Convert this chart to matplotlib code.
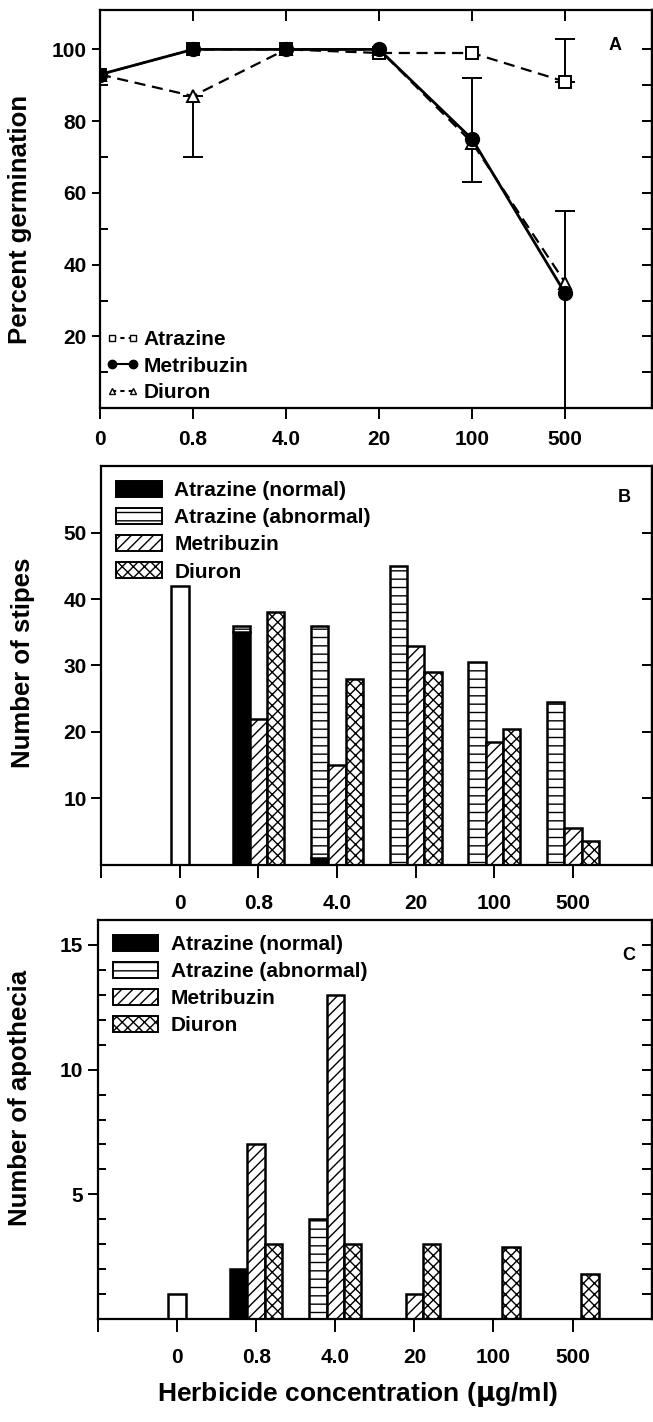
import numpy as np
import matplotlib.pyplot as plt
from matplotlib.lines import Line2D
from matplotlib.patches import Patch

plt.rcParams['font.family'] = ['Liberation Sans', 'DejaVu Sans']
plt.rcParams['font.weight'] = 'bold'
plt.rcParams['hatch.linewidth'] = 1.0
plt.rcParams['axes.linewidth'] = 1.6

# data
conc = ['0', '0.8', '4.0', '20', '100', '500']

# panel A - percent germination
atra_germ = [93, 100, 100, 99, 99, 91]
metr_germ = [93, 100, 100, 100, 75, 32]
diur_germ = [93, 87, 100, 100, 74, 35]
err_idx = [1, 4, 5, 5]
err_mid = [87, 75, 32, 91]
err_lo = [17, 12, 32, 0]
err_hi = [0, 17, 23, 12]

# panel B - number of stipes
ctrl_stipes = 42
atra_norm_stipes = [0, 35, 1, 0, 0, 0]
atra_abn_stipes = [0, 1, 35, 45, 30.5, 24.5]
metr_stipes = [0, 22, 15, 33, 18.5, 5.5]
diur_stipes = [0, 38, 28, 29, 20.5, 3.5]

# panel C - number of apothecia
ctrl_apo = 1
atra_norm_apo = [0, 2, 0, 0, 0, 0]
atra_abn_apo = [0, 0, 4, 0, 0, 0]
metr_apo = [0, 7, 13, 1, 0, 0]
diur_apo = [0, 3, 3, 3, 2.9, 1.8]

fig = plt.figure(figsize=(6.53, 14.22), dpi=100)
FS = 15
LFS = 15
x = np.arange(len(conc))

# ---------- panel A ----------
axA = fig.add_axes([0.153, 0.713, 0.845, 0.280])
axA.plot(x, atra_germ, ls='--', color='k', lw=1.6, marker='s', ms=9,
         mfc='white', mec='k', mew=1.4, dashes=(5, 3), zorder=3)
axA.plot(x, diur_germ, ls='--', color='k', lw=1.6, marker='^', ms=9,
         mfc='white', mec='k', mew=1.4, dashes=(5, 3), zorder=3)
axA.plot(x, metr_germ, ls='-', color='k', lw=2.0, marker='o', ms=10,
         mfc='k', mec='k', zorder=4)
for i, m, lo, hi in zip(err_idx, err_mid, err_lo, err_hi):
    axA.errorbar(x[i], m, yerr=[[lo], [hi]], fmt='none', ecolor='k',
                 elinewidth=1.4, capsize=7, capthick=1.4, zorder=2)
axA.set_xlim(0, 5.93)
axA.set_ylim(0, 111)
axA.set_xticks(x, conc, fontsize=FS)
axA.set_yticks([20, 40, 60, 80, 100])
axA.set_yticks([10, 30, 50, 70, 90], minor=True)
axA.tick_params(axis='y', labelsize=FS, direction='out', length=6, width=1.4)
axA.tick_params(axis='y', which='minor', direction='in', length=6, width=1.4)
axA.tick_params(axis='x', direction='out', length=8, width=1.4, pad=8,
                top=True)
for t in axA.xaxis.get_major_ticks():
    t.tick2line.set_marker(3)
secA = axA.secondary_yaxis('right')
secA.set_yticks(np.arange(10, 101, 10))
secA.tick_params(direction='in', length=7, width=1.4, labelright=False)
axA.text(0.933, 0.91, 'A', transform=axA.transAxes, fontsize=13,
         ha='center', va='center')
hA = [Line2D([], [], ls='--', color='k', marker='s', ms=5, mfc='white', dashes=(2, 2)),
      Line2D([], [], ls='-', color='k', marker='o', ms=6, mfc='k'),
      Line2D([], [], ls='--', color='k', marker='^', ms=5, mfc='white', dashes=(2, 2))]
axA.legend(hA, ['Atrazine', 'Metribuzin', 'Diuron'], loc='lower left',
           frameon=False, fontsize=LFS, handlelength=1.6, handletextpad=0.2,
           numpoints=2, borderaxespad=0.1, labelspacing=0.35, borderpad=0.2)
fig.text(0.031, 0.846, 'Percent germination', rotation=90, fontsize=18.5,
         ha='center', va='center')


# ---------- bar panels ----------
def bar_panel(ax, ctrl, norm, abn, metr, diur):
    w = 0.22
    ax.bar(0, ctrl, w, color='white', edgecolor='k', lw=1.8)
    for i in range(1, len(conc)):
        if norm[i] > 0:
            ax.bar(i - w, norm[i], w, color='k', edgecolor='k', lw=1.8)
        if abn[i] > 0:
            ax.bar(i - w, abn[i], w, bottom=norm[i], color='white',
                   edgecolor='k', lw=1.8, hatch='--')
        if metr[i] > 0:
            ax.bar(i, metr[i], w, color='white', edgecolor='k', lw=1.8,
                   hatch='///')
        if diur[i] > 0:
            ax.bar(i + w, diur[i], w, color='white', edgecolor='k', lw=1.8,
                   hatch='xxx')
    ax.set_xlim(-1, 6)
    ax.set_xticks([-1] + list(x), [''] + conc, fontsize=FS)
    ax.tick_params(axis='x', direction='out', length=9, width=1.4, pad=12)
    ax.tick_params(axis='y', labelsize=FS, direction='out', length=7,
                   width=1.4)
    h = [Patch(facecolor='k', edgecolor='k', lw=1.4),
         Patch(facecolor='white', edgecolor='k', lw=1.4, hatch='--'),
         Patch(facecolor='white', edgecolor='k', lw=1.4, hatch='///'),
         Patch(facecolor='white', edgecolor='k', lw=1.4, hatch='xxx')]
    ax.legend(h, ['Atrazine (normal)', 'Atrazine (abnormal)', 'Metribuzin',
                  'Diuron'], loc='upper left', frameon=False, fontsize=LFS,
              handlelength=2.2, handleheight=0.8, handletextpad=0.6,
              labelspacing=0.38, borderaxespad=0.3, borderpad=0.4)


axB = fig.add_axes([0.155, 0.392, 0.843, 0.280])
bar_panel(axB, ctrl_stipes, atra_norm_stipes, atra_abn_stipes,
          metr_stipes, diur_stipes)
axB.set_ylim(0, 60)
axB.set_yticks([10, 20, 30, 40, 50])
secB = axB.secondary_yaxis('right')
secB.set_yticks([10, 20, 30, 40, 50])
secB.tick_params(direction='in', length=7, width=1.4, labelright=False)
axB.text(0.951, 0.922, 'B', transform=axB.transAxes, fontsize=13,
         ha='center', va='center')
fig.text(0.035, 0.534, 'Number of stipes', rotation=90, fontsize=18.5,
         ha='center', va='center')

axC = fig.add_axes([0.150, 0.0724, 0.848, 0.2806])
bar_panel(axC, ctrl_apo, atra_norm_apo, atra_abn_apo, metr_apo, diur_apo)
axC.set_ylim(0, 16)
axC.set_yticks([5, 10, 15])
axC.set_yticks([1, 2, 3, 4, 6, 7, 8, 9, 11, 12, 13, 14], minor=True)
axC.tick_params(axis='y', which='minor', direction='in', length=6, width=1.4)
secC = axC.secondary_yaxis('right')
secC.set_yticks(np.arange(1, 16))
secC.tick_params(direction='in', length=7, width=1.4, labelright=False)
axC.text(0.958, 0.912, 'C', transform=axC.transAxes, fontsize=13,
         ha='center', va='center')
fig.text(0.030, 0.228, 'Number of apothecia', rotation=90, fontsize=18.5,
         ha='center', va='center')

fig.text(0.548, 0.019, 'Herbicide concentration ($\\mathbf{\\mu}$g/ml)',
         fontsize=19, ha='center', va='center')

fig.savefig('out.png', dpi=100)
